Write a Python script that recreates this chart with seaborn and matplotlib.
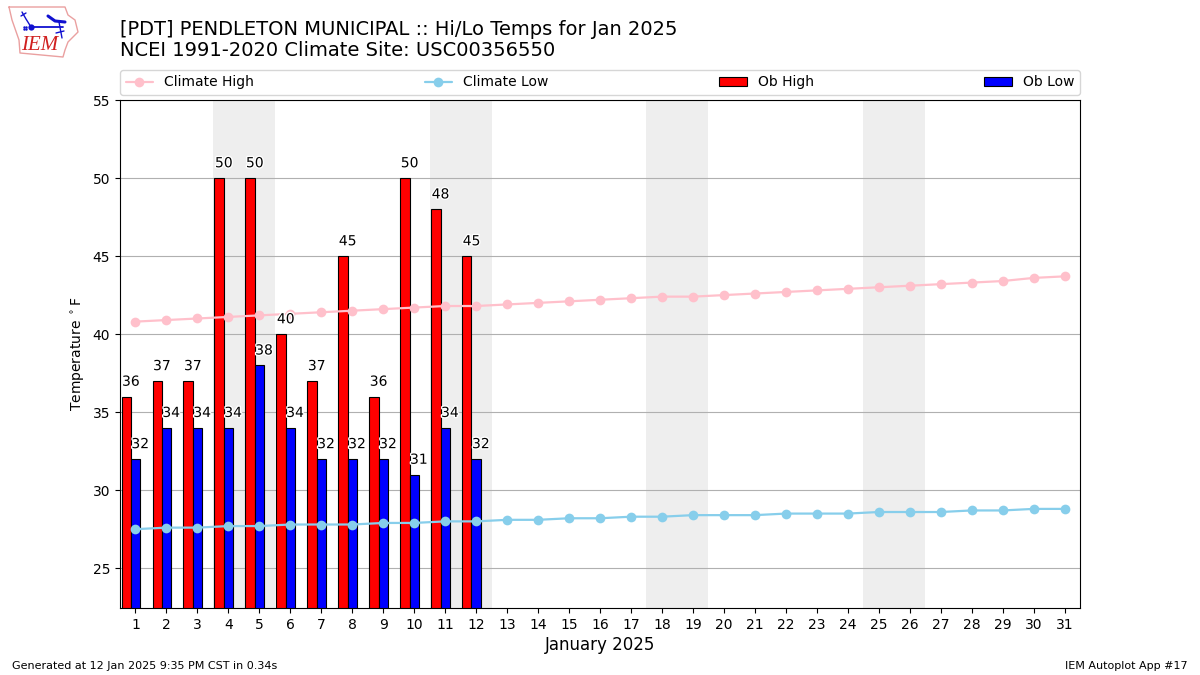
import matplotlib
matplotlib.use("Agg")
import matplotlib.pyplot as plt
import matplotlib.patheffects as pe
import pandas as pd
import seaborn as sns

# values
days = list(range(1, 32))
ob_days = list(range(1, 13))
ob_high = [36, 37, 37, 50, 50, 40, 37, 45, 36, 50, 48, 45]
ob_low = [32, 34, 34, 34, 38, 34, 32, 32, 32, 31, 34, 32]
climate_high = [40.8, 40.9, 41.0, 41.1, 41.2, 41.3, 41.4, 41.5, 41.6, 41.7, 41.8, 41.8,
                41.9, 42.0, 42.1, 42.2, 42.3, 42.4, 42.4, 42.5, 42.6, 42.7, 42.8, 42.9,
                43.0, 43.1, 43.2, 43.3, 43.4, 43.6, 43.7]
climate_low = [27.5, 27.6, 27.6, 27.7, 27.7, 27.8, 27.8, 27.8, 27.9, 27.9, 28.0, 28.0,
               28.1, 28.1, 28.2, 28.2, 28.3, 28.3, 28.4, 28.4, 28.4, 28.5, 28.5, 28.5,
               28.6, 28.6, 28.6, 28.7, 28.7, 28.8, 28.8]
weekends = [(3.5, 5.5), (10.5, 12.5), (17.5, 19.5), (24.5, 26.5)]
y_ticks = [25, 30, 35, 40, 45, 50, 55]

sns.set_style("white")
plt.rcParams["text.color"] = "black"
plt.rcParams["axes.labelcolor"] = "black"
plt.rcParams["xtick.color"] = "black"
plt.rcParams["ytick.color"] = "black"

fig = plt.figure(figsize=(12, 6.75), dpi=100)
ax = fig.add_axes([120 / 1200, 1 - 608 / 675, 960 / 1200, 508 / 675])

for start, end in weekends:
    ax.axvspan(start, end, color="#eeeeee", lw=0, zorder=0)

# bars
high_df = pd.DataFrame({"day": [d - 0.3 for d in ob_days], "temp": ob_high})
low_df = pd.DataFrame({"day": ob_days, "temp": ob_low})
sns.barplot(data=high_df, x="day", y="temp", native_scale=True, width=0.3,
            color="red", saturation=1, edgecolor="black", linewidth=0.8,
            label="Ob High", ax=ax, zorder=2)
sns.barplot(data=low_df, x="day", y="temp", native_scale=True, width=0.3,
            color="blue", saturation=1, edgecolor="black", linewidth=0.8,
            label="Ob Low", ax=ax, zorder=2)

# climate lines
clim_df = pd.DataFrame({"day": days, "high": climate_high, "low": climate_low})
sns.lineplot(data=clim_df, x="day", y="high", color="pink", marker="o", markersize=7,
             markeredgewidth=0, linewidth=1.6, label="Climate High", ax=ax, zorder=3)
sns.lineplot(data=clim_df, x="day", y="low", color="skyblue", marker="o", markersize=7,
             markeredgewidth=0, linewidth=1.6, label="Climate Low", ax=ax, zorder=3)

# value labels
halo = [pe.withStroke(linewidth=2, foreground="white")]
for d, val in zip(ob_days, ob_high):
    ax.text(d - 0.15, val + 0.5, str(val), ha="center", va="bottom", fontsize=10,
            color="black", path_effects=halo, zorder=4)
for d, val in zip(ob_days, ob_low):
    ax.text(d + 0.15, val + 0.5, str(val), ha="center", va="bottom", fontsize=10,
            color="black", path_effects=halo, zorder=4)

ax.set_xlim(0.5, 31.5)
ax.set_ylim(22.45, 55)
ax.set_xticks(days)
ax.set_xticklabels([str(d) for d in days])
ax.set_yticks(y_ticks)
ax.tick_params(axis="both", length=3.5, width=0.8, bottom=True, left=True, labelsize=10, pad=3.5)
ax.grid(axis="y", color="#b0b0b0", linewidth=0.8, zorder=1)
ax.set_axisbelow(True)
for side in ax.spines.values():
    side.set_visible(True)
    side.set_color("black")
    side.set_linewidth(0.8)
ax.set_xlabel("January 2025", fontsize=12, labelpad=3)
ax.set_ylabel("Temperature $^\\circ$F", fontsize=10)

handles, labels = ax.get_legend_handles_labels()
order = [labels.index(n) for n in ["Climate High", "Climate Low", "Ob High", "Ob Low"]]
ax.legend([handles[i] for i in order], [labels[i] for i in order], ncol=4, mode="expand",
          loc="lower left", bbox_to_anchor=(0, 1 + 5 / 508, 1, 0.05), borderaxespad=0,
          fontsize=10, frameon=True, edgecolor="#cccccc")

fig.text(120 / 1200, 1 - 29.5 / 675, "[PDT] PENDLETON MUNICIPAL :: Hi/Lo Temps for Jan 2025",
         fontsize=14, va="center")
fig.text(120 / 1200, 1 - 51 / 675, "NCEI 1991-2020 Climate Site: USC00356550",
         fontsize=14, va="center")
fig.text(12 / 1200, 1 - 666 / 675, "Generated at 12 Jan 2025 9:35 PM CST in 0.34s", fontsize=8, va="center")
fig.text(1188 / 1200, 1 - 666 / 675, "IEM Autoplot App #17", fontsize=8, va="center", ha="right")

# logo, drawn in pixel coordinates of the figure
logo = fig.add_axes([0, 1 - 60 / 675, 90 / 1200, 60 / 675])
logo.set_xlim(0, 90)
logo.set_ylim(60, 0)
logo.axis("off")
outline_x = [9, 65, 68, 75, 78, 68, 65, 63, 20, 19, 12, 9]
outline_y = [7, 7, 15, 20, 32, 42, 50, 57, 53, 40, 20, 7]
logo.plot(outline_x, outline_y, color="#eaa0a0", lw=1)
logo.plot([31, 63], [27, 27], color="#1010d0", lw=1.3)
logo.plot([31], [27], "o", color="#1010d0", ms=4.5, mew=0)
logo.plot([22, 26, 31], [12, 19, 27], color="#1010d0", lw=1)
logo.plot([21, 26], [16, 13], color="#1010d0", lw=1)
logo.plot([48, 55, 65], [16, 21, 22], color="#1010d0", lw=2.2)
logo.plot([59, 62], [22, 38], color="#1010d0", lw=1)
logo.plot([56, 64], [33, 31], color="#1010d0", lw=1)
logo.plot([24, 26, 24, 26], [29, 29, 27, 27], ".", color="#1010d0", ms=1.5)
logo.text(21, 45, "IEM", color="#d02020", family="Liberation Serif", style="italic",
          fontsize=15, va="center")

plt.savefig("out.png", dpi=100)
